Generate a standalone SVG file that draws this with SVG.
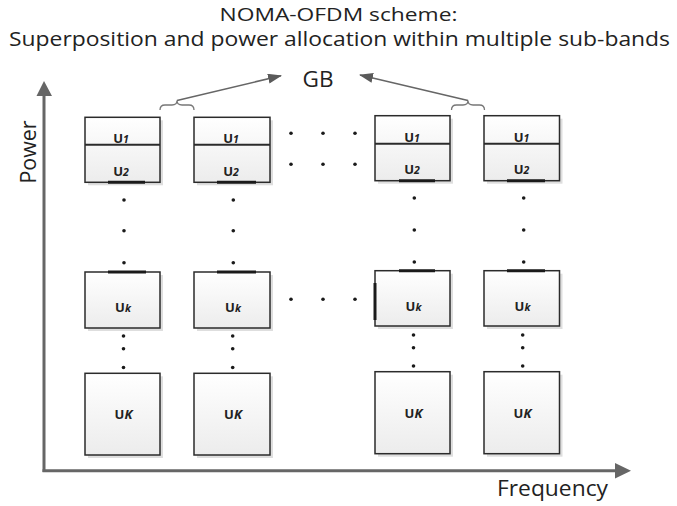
<svg xmlns="http://www.w3.org/2000/svg" width="677" height="506" viewBox="0 0 677 506">
  <defs>
    <linearGradient id="boxfill" x1="0" y1="0" x2="0" y2="1">
      <stop offset="0" stop-color="#ffffff"/>
      <stop offset="1" stop-color="#ececec"/>
    </linearGradient>
    <marker id="arrow" viewBox="0 0 14 10" refX="13" refY="5" markerWidth="14" markerHeight="10" markerUnits="userSpaceOnUse" orient="auto">
      <path d="M0,0 L14,5 L0,10 z" fill="#5a5a5a"/>
    </marker>
  </defs>
  <style>
    .t { font-family: "Open Sans", "Liberation Sans", sans-serif; fill: #222; }
    .lbl { font-family: "Open Sans", "Liberation Sans", sans-serif; font-weight: bold; font-size: 13px; fill: #222; text-anchor: middle; }
    .sub { font-style: italic; font-size: 10.5px; }
    .it { font-style: italic; }
    .box { fill: url(#boxfill); stroke: #2b2b2b; stroke-width: 1.5; }
    .shadow { fill: #dedede; }
    .div { stroke: #2b2b2b; stroke-width: 2; }
    .thick { stroke: #1a1a1a; stroke-width: 3; }
    .dot { fill: #1a1a1a; }
    .axis { stroke: #666; stroke-width: 3; fill: none; }
    .axhead { fill: #666; }
    .brace { fill: none; stroke: #777; stroke-width: 1.3; }
    .arr { stroke: #666; stroke-width: 1.5; fill: none; }
  </style>

  <rect width="677" height="506" fill="#ffffff"/>

  <!-- Titles -->
  <g id="title">
    <text class="t" x="338.5" y="20.5" font-size="19" text-anchor="middle" textLength="238" lengthAdjust="spacingAndGlyphs">NOMA-OFDM scheme:</text>
    <text class="t" x="339.5" y="46" font-size="20" text-anchor="middle" textLength="661" lengthAdjust="spacingAndGlyphs">Superposition and power allocation within multiple sub-bands</text>
  </g>

  <!-- Axes -->
  <g id="axes">
    <line class="axis" x1="44" y1="472" x2="44" y2="95"/>
    <polygon class="axhead" points="36.5,96 52,96 44,81"/>
    <line class="axis" x1="42.5" y1="470.7" x2="616" y2="470.7"/>
    <polygon class="axhead" points="615,463 615,478.5 631,470.7"/>
    <text class="t" x="36" y="152" font-size="21" text-anchor="middle" transform="rotate(-90 36 152)" textLength="63" lengthAdjust="spacingAndGlyphs">Power</text>
    <text class="t" x="497" y="496" font-size="22" textLength="111" lengthAdjust="spacingAndGlyphs">Frequency</text>
  </g>

  <!-- GB label -->
  <g id="gb">
    <text class="t" x="318" y="87.3" font-size="22" text-anchor="middle" textLength="31" lengthAdjust="spacingAndGlyphs">GB</text>
  </g>

  <!-- Connectors (guard band braces and arrows) -->
  <g id="connectors">
    <path class="brace" d="M160,110 Q160,105 165,105 L172,105 Q177,105 177,100.5 Q177,105 182,105 L189,105 Q194,105 194,110"/>
    <line class="arr" x1="177" y1="100.5" x2="281" y2="75.7" marker-end="url(#arrow)"/>
    <path class="brace" d="M451.5,110 Q451.5,105 456.5,105 L463,105 Q468,105 468,100.5 Q468,105 473,105 L479.5,105 Q484.5,105 484.5,110"/>
    <line class="arr" x1="468" y1="100.5" x2="360" y2="75" marker-end="url(#arrow)"/>
  </g>

  <!-- Column 1 -->
  <g id="c1-u12">
    <rect class="shadow" x="88" y="120.3" width="75" height="65"/>
    <rect class="box" x="85" y="117.3" width="75" height="65"/>
    <line class="div" x1="85" y1="144.7" x2="160" y2="144.7"/>
    <line class="thick" x1="108" y1="182.3" x2="145" y2="182.3"/>
    <text class="lbl" x="121" y="142.5">U<tspan class="sub">1</tspan></text>
    <text class="lbl" x="121" y="175.5">U<tspan class="sub">2</tspan></text>
  </g>
  <g id="c1-uk">
    <rect class="shadow" x="88" y="275" width="75" height="56"/>
    <rect class="box" x="85" y="272" width="75" height="56"/>
    <line class="thick" x1="108" y1="272" x2="146" y2="272"/>
    <text class="lbl" x="123" y="312">U<tspan class="sub">k</tspan></text>
  </g>
  <g id="c1-uK">
    <rect class="shadow" x="88" y="376.3" width="75" height="81.7"/>
    <rect class="box" x="85" y="373.3" width="75" height="81.7"/>
    <text class="lbl" x="123.5" y="418.5">U<tspan class="it">K</tspan></text>
  </g>

  <!-- Column 2 -->
  <g id="c2-u12">
    <rect class="shadow" x="197" y="120.3" width="76" height="65"/>
    <rect class="box" x="194" y="117.3" width="76" height="65"/>
    <line class="div" x1="194" y1="144.7" x2="270" y2="144.7"/>
    <line class="thick" x1="217" y1="182.3" x2="256" y2="182.3"/>
    <text class="lbl" x="231" y="142.5">U<tspan class="sub">1</tspan></text>
    <text class="lbl" x="231" y="175.5">U<tspan class="sub">2</tspan></text>
  </g>
  <g id="c2-uk">
    <rect class="shadow" x="197" y="275" width="76" height="56"/>
    <rect class="box" x="194" y="272" width="76" height="56"/>
    <line class="thick" x1="217" y1="272" x2="256" y2="272"/>
    <text class="lbl" x="233" y="312">U<tspan class="sub">k</tspan></text>
  </g>
  <g id="c2-uK">
    <rect class="shadow" x="197" y="376.3" width="76" height="81.7"/>
    <rect class="box" x="194" y="373.3" width="76" height="81.7"/>
    <text class="lbl" x="233" y="418.5">U<tspan class="it">K</tspan></text>
  </g>

  <!-- Column 3 -->
  <g id="c3-u12">
    <rect class="shadow" x="378" y="118.7" width="75" height="65"/>
    <rect class="box" x="375" y="115.7" width="75" height="65"/>
    <line class="div" x1="375" y1="143.7" x2="450" y2="143.7"/>
    <line class="thick" x1="399" y1="180.7" x2="435" y2="180.7"/>
    <text class="lbl" x="412" y="141.5">U<tspan class="sub">1</tspan></text>
    <text class="lbl" x="412" y="174">U<tspan class="sub">2</tspan></text>
  </g>
  <g id="c3-uk">
    <rect class="shadow" x="378" y="273.7" width="75" height="55.3"/>
    <rect class="box" x="375" y="270.7" width="75" height="55.3"/>
    <line class="thick" x1="399" y1="270.7" x2="435" y2="270.7"/>
    <line class="thick" x1="375" y1="283" x2="375" y2="320"/>
    <text class="lbl" x="413.5" y="310.5">U<tspan class="sub">k</tspan></text>
  </g>
  <g id="c3-uK">
    <rect class="shadow" x="378" y="374.7" width="75" height="82"/>
    <rect class="box" x="375" y="371.7" width="75" height="82"/>
    <text class="lbl" x="413.5" y="418">U<tspan class="it">K</tspan></text>
  </g>

  <!-- Column 4 -->
  <g id="c4-u12">
    <rect class="shadow" x="487" y="118.7" width="75.5" height="65"/>
    <rect class="box" x="484" y="115.7" width="75.5" height="65"/>
    <line class="div" x1="484" y1="143.7" x2="559.5" y2="143.7"/>
    <line class="thick" x1="507" y1="180.7" x2="545" y2="180.7"/>
    <text class="lbl" x="521.5" y="141.5">U<tspan class="sub">1</tspan></text>
    <text class="lbl" x="521.5" y="174">U<tspan class="sub">2</tspan></text>
  </g>
  <g id="c4-uk">
    <rect class="shadow" x="487" y="273.7" width="75.5" height="55.3"/>
    <rect class="box" x="484" y="270.7" width="75.5" height="55.3"/>
    <line class="thick" x1="507" y1="270.7" x2="545" y2="270.7"/>
    <text class="lbl" x="522.5" y="310.5">U<tspan class="sub">k</tspan></text>
  </g>
  <g id="c4-uK">
    <rect class="shadow" x="487" y="374.7" width="75.5" height="82"/>
    <rect class="box" x="484" y="371.7" width="75.5" height="82"/>
    <text class="lbl" x="522.5" y="418">U<tspan class="it">K</tspan></text>
  </g>

  <!-- Ellipsis dots -->
  <g id="dots">
    <circle class="dot" cx="291" cy="133.3" r="1.8"/>
    <circle class="dot" cx="323" cy="133.3" r="1.8"/>
    <circle class="dot" cx="355" cy="133.3" r="1.8"/>
    <circle class="dot" cx="291" cy="164.3" r="1.8"/>
    <circle class="dot" cx="323" cy="164.3" r="1.8"/>
    <circle class="dot" cx="355" cy="164.3" r="1.8"/>
    <circle class="dot" cx="291" cy="299.3" r="1.8"/>
    <circle class="dot" cx="323" cy="299.3" r="1.8"/>
    <circle class="dot" cx="355" cy="299.3" r="1.8"/>
    <circle class="dot" cx="124" cy="200" r="1.8"/>
    <circle class="dot" cx="124" cy="230.7" r="1.8"/>
    <circle class="dot" cx="124" cy="262.7" r="1.8"/>
    <circle class="dot" cx="123.5" cy="336" r="1.8"/>
    <circle class="dot" cx="123.5" cy="348.7" r="1.8"/>
    <circle class="dot" cx="123.5" cy="367.5" r="1.8"/>
    <circle class="dot" cx="233.3" cy="200" r="1.8"/>
    <circle class="dot" cx="233.3" cy="230.7" r="1.8"/>
    <circle class="dot" cx="233.3" cy="262.7" r="1.8"/>
    <circle class="dot" cx="232.7" cy="336" r="1.8"/>
    <circle class="dot" cx="232.7" cy="348.7" r="1.8"/>
    <circle class="dot" cx="232.7" cy="367.5" r="1.8"/>
    <circle class="dot" cx="414.3" cy="198" r="1.8"/>
    <circle class="dot" cx="414.3" cy="230" r="1.8"/>
    <circle class="dot" cx="414.3" cy="262" r="1.8"/>
    <circle class="dot" cx="413.5" cy="335" r="1.8"/>
    <circle class="dot" cx="413.5" cy="347.7" r="1.8"/>
    <circle class="dot" cx="413.5" cy="366" r="1.8"/>
    <circle class="dot" cx="523.7" cy="198" r="1.8"/>
    <circle class="dot" cx="523.7" cy="230" r="1.8"/>
    <circle class="dot" cx="523.7" cy="262" r="1.8"/>
    <circle class="dot" cx="522.7" cy="335" r="1.8"/>
    <circle class="dot" cx="522.7" cy="347.7" r="1.8"/>
    <circle class="dot" cx="522.7" cy="366" r="1.8"/>
  </g>
</svg>
